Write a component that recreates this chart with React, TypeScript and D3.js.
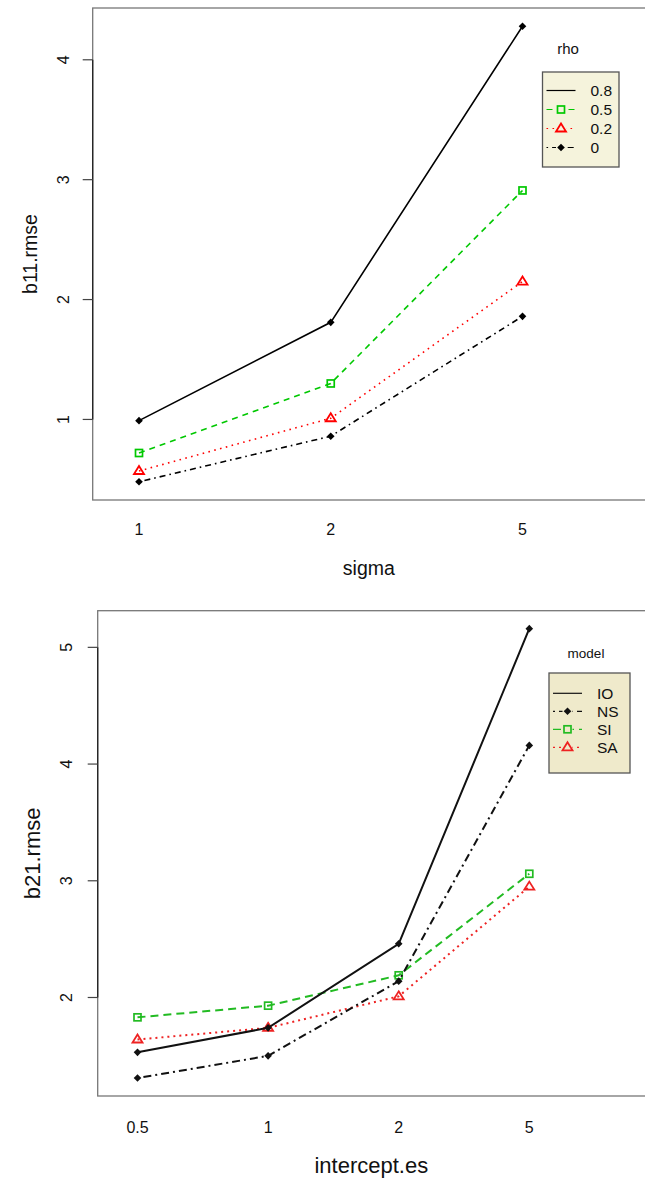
import React from "react";
import * as d3 from "d3";

// ---- Top chart data ----
const sigmaLevels = ["1", "2", "5"];
const rhoLevels = ["0.8", "0.5", "0.2", "0"];
const rho08 = [0.99, 1.81, 4.28];
const rho05 = [0.72, 1.30, 2.91];
const rho02 = [0.57, 1.01, 2.15];
const rho00 = [0.48, 0.86, 1.86];
const topYTicks = [1, 2, 3, 4];

// ---- Bottom chart data ----
const interceptLevels = ["0.5", "1", "2", "5"];
const modelLevels = ["IO", "NS", "SI", "SA"];
const modelIO = [1.53, 1.74, 2.46, 5.16];
const modelNS = [1.31, 1.50, 2.14, 4.16];
const modelSI = [1.83, 1.93, 2.19, 3.06];
const modelSA = [1.64, 1.74, 2.01, 2.95];
const bottomYTicks = [2, 3, 4, 5];

const FONT = "Liberation Sans, Arial, Helvetica, sans-serif";
const GREEN = "#00c800";
const RED = "#ff0000";

type Series = {
  name: string;
  values: number[];
  color: string;
  dash: string;
  marker: "diamond" | "square" | "triangle";
  legendMarker: boolean;
};

function Marker({ kind, x, y, color }: { kind: string; x: number; y: number; color: string }) {
  if (kind === "diamond") {
    const s = 3.8;
    return <path d={`M${x},${y - s}L${x + s},${y}L${x},${y + s}L${x - s},${y}Z`} fill={color} stroke="none" />;
  }
  if (kind === "square") {
    const s = 3.5;
    return <rect x={x - s} y={y - s} width={2 * s} height={2 * s} fill="none" stroke={color} strokeWidth={1.7} />;
  }
  const r = 5;
  return (
    <path
      d={`M${x},${y - r}L${x + r},${y + r * 0.6}L${x - r},${y + r * 0.6}Z`}
      fill="none"
      stroke={color}
      strokeWidth={1.8}
    />
  );
}

function Panel(props: {
  top: number;
  bottom: number;
  left: number;
  levels: string[];
  xFirst: number;
  xLast: number;
  series: Series[];
  yTicks: number[];
  yLabel: string;
  xLabel: string;
  yLabelX: number;
  tickLabelX: number;
  xTickY: number;
  xLabelY: number;
  labelSize: number;
  legendTitle: string;
  legendTitleX: number;
  legendTitleY: number;
  legendTitleSize: number;
  legend: { x: number; y: number; w: number; h: number; firstY: number; step: number; fill: string };
  lineWidth: number;
}) {
  const p = props;
  const allVals = p.series.flatMap((s) => s.values);
  const lo = d3.min(allVals)!;
  const hi = d3.max(allVals)!;
  const ext = (hi - lo) * 0.04;
  const y = d3.scaleLinear().domain([lo - ext, hi + ext]).range([p.bottom, p.top]);
  const x = d3
    .scaleLinear()
    .domain([1, p.levels.length])
    .range([p.xFirst, p.xLast]);
  const line = d3
    .line<number>()
    .x((_, i) => x(i + 1))
    .y((v) => y(v));
  const lg = p.legend;
  const axisTop = y(p.yTicks[p.yTicks.length - 1]);
  const axisBottom = y(p.yTicks[0]);
  return (
    <g>
      {/* plot box */}
      <rect x={p.left} y={p.top} width={700} height={p.bottom - p.top} fill="none" stroke="#777" strokeWidth={1.3} />
      {/* y axis */}
      <line x1={p.left} x2={p.left} y1={axisTop} y2={axisBottom} stroke="#222" strokeWidth={1.3} />
      {p.yTicks.map((t) => (
        <g key={t}>
          <line x1={p.left - 10} x2={p.left} y1={y(t)} y2={y(t)} stroke="#444" strokeWidth={1.2} />
          <text
            x={p.tickLabelX}
            y={y(t)}
            transform={`rotate(-90 ${p.tickLabelX} ${y(t)})`}
            textAnchor="middle"
            dominantBaseline="central"
            fontSize={16}
            fontFamily={FONT}
            fill="#111"
          >
            {t}
          </text>
        </g>
      ))}
      {/* x tick labels */}
      {p.levels.map((l, i) => (
        <text
          key={l}
          x={x(i + 1)}
          y={p.xTickY}
          textAnchor="middle"
          dominantBaseline="central"
          fontSize={16}
          fontFamily={FONT}
          fill="#111"
        >
          {l}
        </text>
      ))}
      {/* axis titles */}
      <text
        x={(p.left + 645) / 2}
        y={p.xLabelY}
        textAnchor="middle"
        dominantBaseline="central"
        fontSize={p.labelSize}
        fontFamily={FONT}
        fill="#111"
      >
        {p.xLabel}
      </text>
      <text
        x={p.yLabelX}
        y={(p.top + p.bottom) / 2}
        transform={`rotate(-90 ${p.yLabelX} ${(p.top + p.bottom) / 2})`}
        textAnchor="middle"
        dominantBaseline="central"
        fontSize={p.labelSize}
        fontFamily={FONT}
        fill="#111"
      >
        {p.yLabel}
      </text>
      {/* series lines */}
      {p.series
        .slice()
        .reverse()
        .map((s) => (
          <g key={s.name}>
            <path
              d={line(s.values)!}
              fill="none"
              stroke={s.color}
              strokeWidth={p.lineWidth}
              strokeDasharray={s.dash}
              strokeLinecap="butt"
            />
            {s.values.map((v, i) => (
              <Marker key={i} kind={s.marker} x={x(i + 1)} y={y(v)} color={s.color} />
            ))}
          </g>
        ))}
      {/* legend */}
      <text
        x={p.legendTitleX}
        y={p.legendTitleY}
        textAnchor="middle"
        dominantBaseline="central"
        fontSize={p.legendTitleSize}
        fontFamily={FONT}
        fill="#111"
      >
        {p.legendTitle}
      </text>
      <rect x={lg.x} y={lg.y} width={lg.w} height={lg.h} fill={lg.fill} stroke="#555" strokeWidth={1.3} />
      {p.series.map((s, i) => {
        const ly = lg.firstY + i * lg.step;
        const lx1 = lg.x + 4;
        const lx2 = lg.x + 33;
        return (
          <g key={s.name}>
            <line
              x1={lx1}
              x2={lx2}
              y1={ly}
              y2={ly}
              stroke={s.color}
              strokeWidth={1.2}
              strokeDasharray={s.dash === "none" ? undefined : s.dash}
            />
            {s.legendMarker && (
              <>
                <rect x={(lx1 + lx2) / 2 - 5} y={ly - 5} width={10} height={10} fill={lg.fill} />
                <Marker kind={s.marker} x={(lx1 + lx2) / 2} y={ly} color={s.color} />
              </>
            )}
            <text
              x={lg.x + 48}
              y={ly}
              dominantBaseline="central"
              fontSize={15.5}
              fontFamily={FONT}
              fill="#111"
            >
              {s.name}
            </text>
          </g>
        );
      })}
    </g>
  );
}

export default function App() {
  const topSeries: Series[] = [
    { name: rhoLevels[0], values: rho08, color: "#000", dash: "none", marker: "diamond", legendMarker: false },
    { name: rhoLevels[1], values: rho05, color: GREEN, dash: "6 5", marker: "square", legendMarker: true },
    { name: rhoLevels[2], values: rho02, color: RED, dash: "1.6 4.4", marker: "triangle", legendMarker: true },
    { name: rhoLevels[3], values: rho00, color: "#000", dash: "1.6 4 6 4", marker: "diamond", legendMarker: true },
  ];
  const bottomSeries: Series[] = [
    { name: modelLevels[0], values: modelIO, color: "#111", dash: "none", marker: "diamond", legendMarker: false },
    { name: modelLevels[1], values: modelNS, color: "#111", dash: "2 4 8 4", marker: "diamond", legendMarker: true },
    { name: modelLevels[2], values: modelSI, color: "#22bb22", dash: "8 5", marker: "square", legendMarker: true },
    { name: modelLevels[3], values: modelSA, color: "#ee2222", dash: "2 4", marker: "triangle", legendMarker: true },
  ];
  return (
    <svg
      width={645}
      height={1180}
      style={{ position: "absolute", left: 0, top: 0, display: "block", background: "#fff" }}
    >
      <Panel
        top={8}
        bottom={500}
        left={92.7}
        levels={sigmaLevels}
        xFirst={139}
        xLast={522.5}
        series={topSeries}
        yTicks={topYTicks}
        yLabel="b11.rmse"
        xLabel="sigma"
        yLabelX={30}
        tickLabelX={64}
        xTickY={529}
        xLabelY={568}
        labelSize={19.5}
        legendTitle="rho"
        legendTitleX={568}
        legendTitleY={48}
        legendTitleSize={15}
        legend={{ x: 542.5, y: 72, w: 76.5, h: 95, firstY: 90.5, step: 19, fill: "#f5f3dc" }}
        lineWidth={1.6}
      />
      <Panel
        top={610.7}
        bottom={1096}
        left={97.7}
        levels={interceptLevels}
        xFirst={137.5}
        xLast={529.3}
        series={bottomSeries}
        yTicks={bottomYTicks}
        yLabel="b21.rmse"
        xLabel="intercept.es"
        yLabelX={33}
        tickLabelX={67}
        xTickY={1127}
        xLabelY={1165}
        labelSize={22}
        legendTitle="model"
        legendTitleX={586}
        legendTitleY={653}
        legendTitleSize={13.5}
        legend={{ x: 549, y: 673, w: 81, h: 100, firstY: 693.3, step: 18, fill: "#efeacb" }}
        lineWidth={2}
      />
    </svg>
  );
}
